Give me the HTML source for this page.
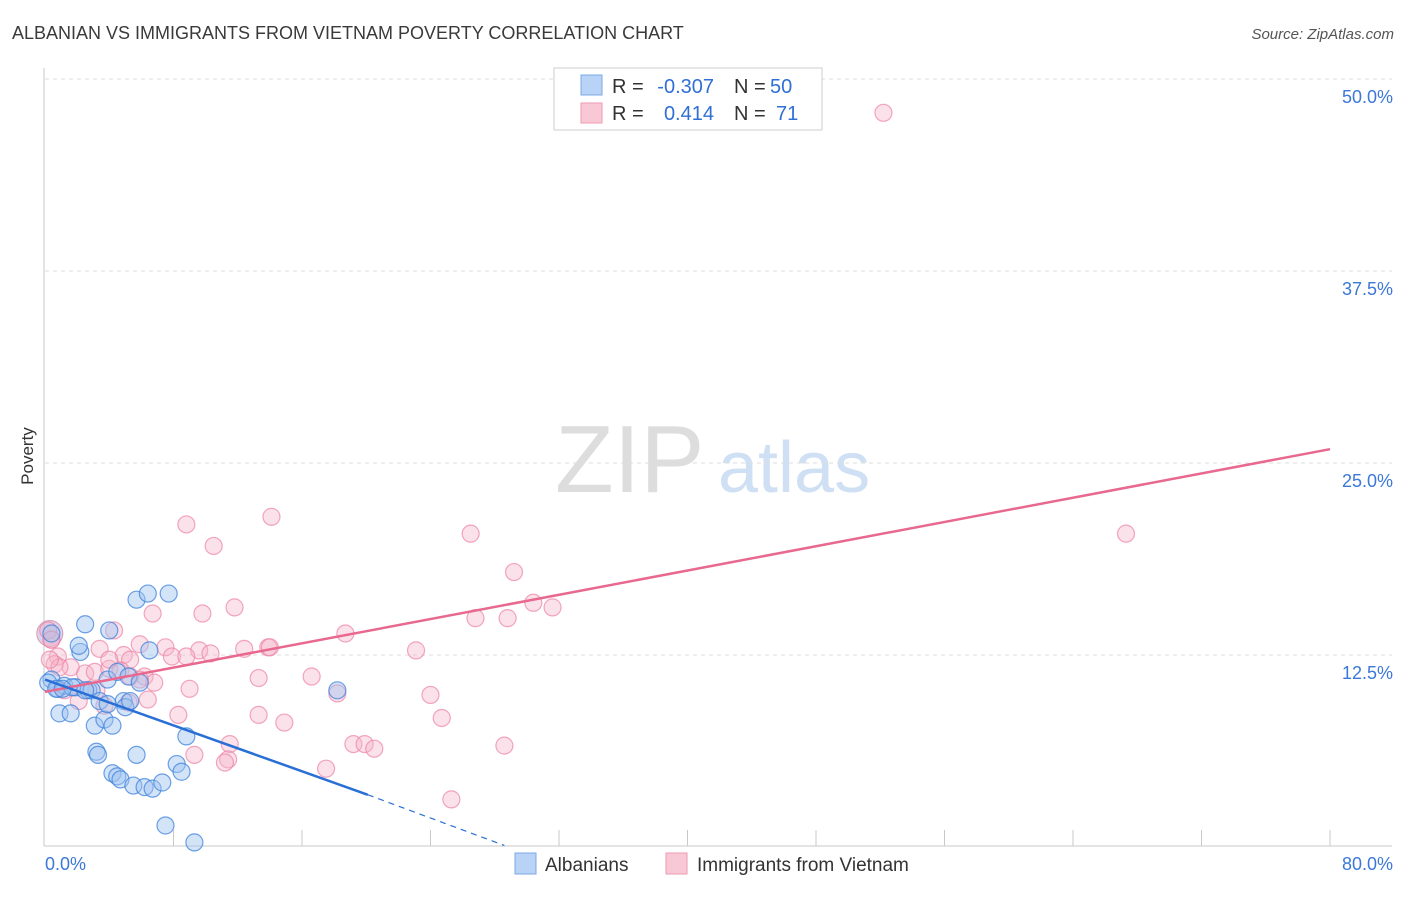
<!DOCTYPE html>
<html><head><meta charset="utf-8"><style>
body{margin:0;background:#fff;font-family:"Liberation Sans",sans-serif}
svg text{font-family:"Liberation Sans",sans-serif}
</style></head><body>
<svg id="chart" width="1406" height="892" xmlns="http://www.w3.org/2000/svg">
<text x="12" y="39" font-size="18" fill="#3a3a3a">ALBANIAN VS IMMIGRANTS FROM VIETNAM POVERTY CORRELATION CHART</text>
<text x="1394" y="39" font-size="15" fill="#555" text-anchor="end" font-style="italic">Source: ZipAtlas.com</text>
<text x="33" y="456" font-size="17" fill="#333" text-anchor="middle" transform="rotate(-90 33 456)">Poverty</text>
<text x="555" y="492" font-size="96" fill="#ddd" font-family="Liberation Serif">ZIP</text>
<text x="718" y="492" font-size="72" fill="#cfe0f4">atlas</text>
<g id="grid"></g><g id="pts"></g><g id="lines"></g>
<g>
<rect x="554" y="68" width="268" height="62" fill="#fff" stroke="#ccc"/>
<rect x="581" y="75" width="21" height="20" fill="#b8d3f5" stroke="#7aa8e6"/>
<rect x="581" y="103" width="21" height="20" fill="#f9c8d6" stroke="#ee9ab2"/>
<text x="612" y="93" font-size="20" fill="#333">R =</text>
<text x="714" y="93" font-size="20" fill="#2f6fd6" text-anchor="end">-0.307</text>
<text x="734" y="93" font-size="20" fill="#333">N =</text>
<text x="770" y="93" font-size="20" fill="#2f6fd6">50</text>
<text x="612" y="120" font-size="20" fill="#333">R =</text>
<text x="714" y="120" font-size="20" fill="#2f6fd6" text-anchor="end">0.414</text>
<text x="734" y="120" font-size="20" fill="#333">N =</text>
<text x="776" y="120" font-size="20" fill="#2f6fd6">71</text>
</g>
<g>
<rect x="515" y="853" width="21" height="21" fill="#b8d3f5" stroke="#7aa8e6"/>
<text x="545" y="871" font-size="19" fill="#333">Albanians</text>
<rect x="666" y="853" width="21" height="21" fill="#f9c8d6" stroke="#ee9ab2"/>
<text x="697" y="871" font-size="19" fill="#333">Immigrants from Vietnam</text>
</g>
</svg>
<script>
const yTicks=[12.5,25,37.5,50];
const yTickLabels=["12.5%","25.0%","37.5%","50.0%"];
const blueX=[0.4,0.4,0.9,1.6,0.8,1.2,1.9,2.5,2.2,2.1,2.7,2.9,3.1,3.4,3.7,3.2,3.3,4.0,4.2,3.9,4.5,5.2,4.9,5.0,5.7,6.4,7.7,6.5,5.9,5.7,4.2,4.5,4.7,5.5,6.2,6.7,7.3,8.2,8.5,8.8,7.5,9.3,18.2,3.9,0.2,0.7,1.7,2.5,1.1,5.3];
const blueY=[13.9,10.9,8.7,8.7,10.3,10.5,10.4,14.5,12.7,13.1,10.2,10.2,7.9,9.5,8.3,6.2,6.0,14.1,7.9,10.9,11.4,11.1,9.5,9.1,16.1,16.5,16.5,12.8,10.7,6.0,4.8,4.6,4.4,4.0,3.9,3.8,4.2,5.4,4.9,7.2,1.4,0.3,10.2,9.3,10.7,10.3,10.4,10.2,10.3,9.5];
const pinkX=[52.2,67.3,8.8,14.1,10.5,26.5,29.2,6.7,11.8,9.8,30.4,31.6,26.8,28.8,18.7,4.3,5.9,7.5,4.9,9.6,13.9,12.4,23.1,7.9,10.3,5.3,3.4,0.4,0.8,1.6,2.5,3.1,4.0,4.7,6.2,6.8,9.0,13.3,16.6,18.2,24.0,8.3,13.3,14.9,24.7,5.2,2.1,3.2,11.5,19.2,19.9,20.5,28.6,9.3,11.4,11.2,17.5,25.3,0.6,0.9,5.3,8.8,6.4,3.7,1.2,4.0,5.9,14.0,0.2,0.4,0.3];
const pinkY=[47.8,20.4,21.0,21.5,19.6,20.4,17.9,15.2,15.6,15.2,15.9,15.6,14.9,14.9,13.9,14.1,13.2,13.0,12.5,12.8,13.0,12.9,12.8,12.4,12.6,12.2,12.9,13.5,12.4,11.7,11.3,11.4,11.6,11.5,11.1,10.7,10.3,11.0,11.1,10.0,9.9,8.6,8.6,8.1,8.4,9.4,9.5,10.2,6.7,6.7,6.7,6.4,6.6,6.0,5.7,5.5,5.1,3.1,11.9,11.7,11.1,12.4,9.6,9.2,10.2,12.2,10.9,13.0,14.1,13.5,12.2];
const blueLine=[[0,10.9],[20.1,3.4]];
const blueDash=[[20.1,3.4],[28.6,0.1]];
const pinkLine=[[0,10.1],[80,25.9]];
const X0=45,X1=1330,Y0=847,Y1=79;
const sx=v=>X0+(v/80)*(X1-X0), sy=v=>Y0-(v/50)*(Y0-Y1);
const NS="http://www.w3.org/2000/svg";
function mk(t,a,p){const e=document.createElementNS(NS,t);for(const k in a)e.setAttribute(k,a[k]);p.appendChild(e);return e;}
const grid=document.getElementById('grid');
yTicks.forEach((t,i)=>{
 const l=mk('line',{x1:X0,x2:1392,y1:sy(t),y2:sy(t),stroke:'#ddd','stroke-dasharray':'4,4'},grid);
 
 
 const tx=mk('text',{x:1393,y:sy(t)+24,'font-size':18,fill:'#3b78d8','text-anchor':'end'},grid);
 tx.textContent=yTickLabels[i];
 
 
});
const ax=mk('line',{x1:44,x2:44,y1:68,y2:846,stroke:'#c8c8c8'},grid);


const bx=mk('line',{x1:44,x2:1392,y1:846,y2:846,stroke:'#c8c8c8'},grid);


for(let i=1;i<=10;i++){const x=sx(i*8);const t=mk('line',{x1:x,x2:x,y1:830,y2:846,stroke:'#c8c8c8'},grid);
 
 }
const xl=mk('text',{x:45,y:870,'font-size':18,fill:'#3b78d8'},grid);xl.textContent='0.0%';


const xr=mk('text',{x:1393,y:870,'font-size':18,fill:'#3b78d8','text-anchor':'end'},grid);xr.textContent='80.0%';


const pts=document.getElementById('pts');
const big=mk('circle',{cx:sx(0.3),cy:sy(13.9),r:13,fill:'rgba(180,160,210,0.45)',stroke:'#d49ab8'},pts);


pinkX.forEach((x,i)=>{const c=mk('circle',{cx:sx(x),cy:sy(pinkY[i]),r:8.5,fill:'rgba(246,180,200,0.4)',stroke:'rgba(236,130,165,0.7)','stroke-width':1.2},pts);
 
 });
blueX.forEach((x,i)=>{const c=mk('circle',{cx:sx(x),cy:sy(blueY[i]),r:8.5,fill:'rgba(160,195,240,0.45)',stroke:'rgba(60,130,220,0.75)','stroke-width':1.2},pts);
 
 });
const lines=document.getElementById('lines');
const pl=mk('line',{x1:sx(pinkLine[0][0]),y1:sy(pinkLine[0][1]),x2:sx(pinkLine[1][0]),y2:sy(pinkLine[1][1]),stroke:'#e8688f','stroke-width':2.5},lines);


const bl=mk('line',{x1:sx(blueLine[0][0]),y1:sy(blueLine[0][1]),x2:sx(blueLine[1][0]),y2:sy(blueLine[1][1]),stroke:'#2a6fd6','stroke-width':2.5},lines);


const bd=mk('line',{x1:sx(blueDash[0][0]),y1:sy(blueDash[0][1]),x2:sx(blueDash[1][0]),y2:sy(blueDash[1][1]),stroke:'#2a6fd6','stroke-width':1.2,'stroke-dasharray':'6,5'},lines);


</script>
</body></html>
